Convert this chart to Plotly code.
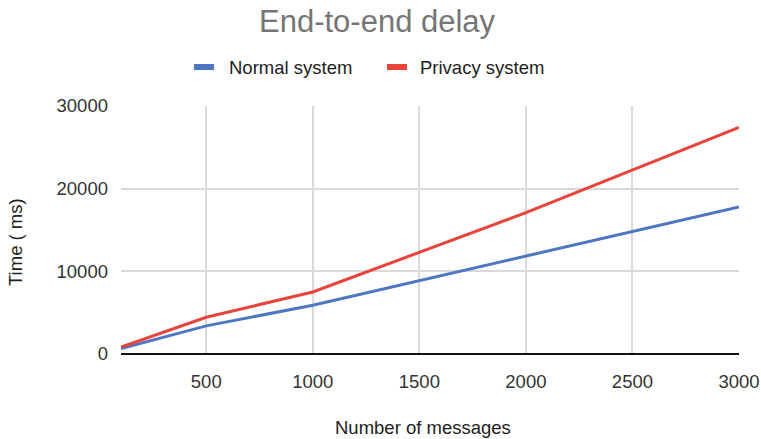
import plotly.graph_objects as go

# Message counts and measured delays (ms)
messages = [100, 400, 500, 1000, 2000, 3000]
normal_ms = [650, 2750, 3400, 5900, 11850, 17800]
privacy_ms = [850, 3600, 4450, 7500, 17100, 27400]

series_names = ["Normal system", "Privacy system"]
series_colors = ["#4e76c3", "#e8443a"]

x_ticks = [500, 1000, 1500, 2000, 2500, 3000]
y_ticks = [0, 10000, 20000, 30000]
y_tick_labels = ["0", "10000", "20000", "30000"]

W, H = 761, 439
ML, MR, MT, MB = 121, 22, 106, 85
PW, PH = W - ML - MR, H - MT - MB
FONT = "Liberation Sans, Arial, sans-serif"


def px_x(px):
    return (px - ML) / PW


def px_y(py):
    return (H - MB - py) / PH


fig = go.Figure()
for name, ys, col in zip(series_names, [normal_ms, privacy_ms], series_colors):
    fig.add_trace(go.Scatter(x=messages, y=ys, mode="lines", name=name,
                             line=dict(color=col, width=3), showlegend=False))

annotations = [
    dict(text="End-to-end delay", x=px_x(377), y=px_y(21), xref="paper", yref="paper",
         showarrow=False, xanchor="center", yanchor="middle",
         font=dict(family=FONT, size=31, color="#757575")),
    dict(text="Number of messages", x=px_x(423), y=px_y(427), xref="paper", yref="paper",
         showarrow=False, xanchor="center", yanchor="middle",
         font=dict(family=FONT, size=18.5, color="#222222")),
    dict(text="Time ( ms)", x=px_x(15), y=px_y(242), xref="paper", yref="paper",
         showarrow=False, xanchor="center", yanchor="middle", textangle=-90,
         font=dict(family=FONT, size=18.5, color="#222222")),
]

# legend drawn as swatch + label pairs
shapes = []
legend_items = [(194, 227), (387, 418)]
for (sx, tx), name, col in zip(legend_items, series_names, series_colors):
    shapes.append(dict(type="rect", xref="paper", yref="paper",
                       x0=px_x(sx), x1=px_x(sx + 20), y0=px_y(70), y1=px_y(64),
                       fillcolor=col, line=dict(width=0)))
    annotations.append(dict(text=name, x=px_x(tx), y=px_y(67), xref="paper", yref="paper",
                            showarrow=False, xanchor="left", yanchor="middle",
                            font=dict(family=FONT, size=18.5, color="#222222")))

fig.update_layout(
    width=W, height=H,
    margin=dict(l=ML, r=MR, t=MT, b=MB, autoexpand=False),
    paper_bgcolor="white", plot_bgcolor="white",
    annotations=annotations, shapes=shapes,
    font=dict(family=FONT, size=18.5, color="#333333"),
)
fig.update_xaxes(range=[100, 3000], tickvals=x_ticks, showgrid=True, automargin=False,
                 gridcolor="#d9d9d9", gridwidth=2, zeroline=False, showline=False,
                 ticks="", ticklabelstandoff=14,
                 tickfont=dict(family=FONT, size=18.5, color="#333333"))
fig.update_yaxes(range=[0, 30000], tickvals=y_ticks, ticktext=y_tick_labels,
                 showgrid=True, automargin=False,
                 gridcolor="#d9d9d9", gridwidth=2, zeroline=True, zerolinecolor="#111111",
                 zerolinewidth=2, showline=False, ticks="", ticklabelstandoff=12,
                 tickfont=dict(family=FONT, size=18.5, color="#333333"))

fig.write_html("out.html")
